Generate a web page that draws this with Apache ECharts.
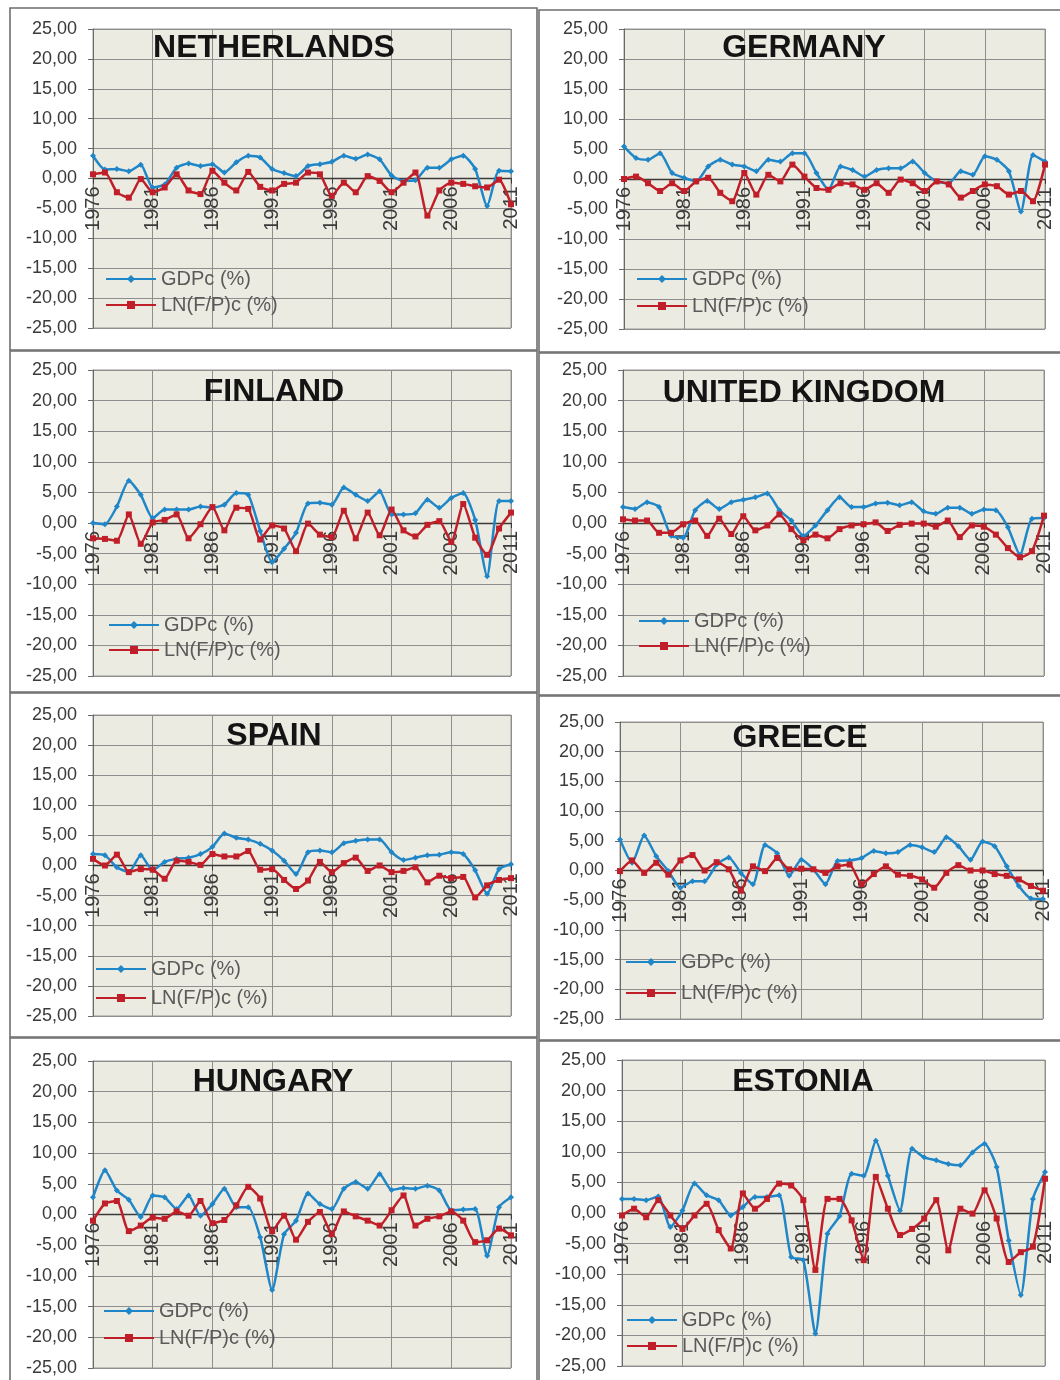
<!DOCTYPE html>
<html>
<head>
<meta charset="utf-8">
<script src="https://cdn.jsdelivr.net/npm/echarts@6/dist/echarts.min.js"></script>
<style>
  html, body { margin: 0; padding: 0; background: #ffffff; }
  #chart { width: 1060px; height: 1380px; }
</style>
</head>
<body>
<div id="chart"></div>
<script>
// Years on the category axis
const years = ['1976','1977','1978','1979','1980','1981','1982','1983','1984','1985',
               '1986','1987','1988','1989','1990','1991','1992','1993','1994','1995',
               '1996','1997','1998','1999','2000','2001','2002','2003','2004','2005',
               '2006','2007','2008','2009','2010','2011'];

// Country titles
const countries = ['NETHERLANDS', 'GERMANY', 'FINLAND', 'UNITED KINGDOM', 'SPAIN', 'GREECE', 'HUNGARY', 'ESTONIA'];

// Series names
const gdpName = 'GDPc (%)';
const lnName = 'LN(F/P)c (%)';

// Y axis range and step
const yMin = -25, yMax = 25, yStep = 5;

// GDP per capita growth (%) and LN(F/P) change (%) per country, 1976-2011
const netherlandsGdp = [3.8, 1.5, 1.6, 1.2, 2.3, -1.5, -1.0, 1.8, 2.5, 2.1,
                        2.4, 1.0, 2.7, 3.8, 3.5, 1.6, 0.9, 0.4, 2.1, 2.4,
                        2.8, 3.8, 3.3, 4.0, 3.2, 0.5, -0.4, -0.3, 1.8, 1.8,
                        3.2, 3.8, 1.6, -4.6, 1.3, 1.2];
const netherlandsLn = [0.7, 1.0, -2.3, -3.2, -0.1, -2.3, -1.5, 0.7, -2.0, -2.6,
                       1.3, -0.7, -2.0, 1.1, -1.4, -2.0, -0.9, -0.7, 1.0, 0.7,
                       -2.9, -0.7, -2.3, 0.4, -0.4, -2.3, -0.7, 1.0, -6.2, -2.0,
                       -0.7, -0.9, -1.3, -1.5, -0.2, -4.3];

const germanyGdp = [5.4, 3.5, 3.2, 4.3, 1.0, 0.2, -0.4, 2.1, 3.2, 2.4,
                    2.1, 1.3, 3.2, 2.9, 4.3, 4.3, 1.0, -1.8, 2.1, 1.5,
                    0.4, 1.5, 1.8, 1.8, 2.9, 1.0, -0.4, -0.7, 1.3, 0.7,
                    3.8, 3.2, 1.3, -5.4, 4.0, 2.9];
const germanyLn = [0.0, 0.4, -0.7, -2.0, -0.7, -2.0, -0.4, 0.2, -2.3, -3.7,
                   1.0, -2.6, 0.7, -0.4, 2.4, 0.4, -1.5, -1.8, -0.7, -0.9,
                   -1.8, -0.7, -2.3, -0.1, -0.7, -2.0, -0.4, -0.9, -3.1, -2.0,
                   -0.9, -1.2, -2.6, -2.0, -3.7, 2.4];

const finlandGdp = [0.0, -0.2, 2.7, 6.9, 4.6, 0.8, 2.2, 2.2, 2.2, 2.7,
                    2.5, 3.0, 4.9, 4.6, -1.3, -6.4, -4.2, -1.6, 3.2, 3.3,
                    3.0, 5.8, 4.6, 3.6, 5.2, 1.4, 1.4, 1.6, 3.8, 2.5,
                    4.1, 4.9, 0.5, -8.7, 3.6, 3.6];
const finlandLn = [-2.5, -2.6, -2.9, 1.4, -3.4, 0.1, 0.5, 1.4, -2.5, -0.2,
                   2.6, -1.2, 2.5, 2.3, -2.7, -0.4, -0.9, -4.6, -0.1, -1.9,
                   -2.3, 2.0, -2.5, 1.7, -2.0, 2.2, -1.2, -2.2, -0.3, 0.3,
                   -3.1, 3.1, -2.4, -5.2, -0.9, 1.7];

const ukGdp = [2.6, 2.3, 3.4, 2.6, -2.1, -2.4, 2.1, 3.6, 2.3, 3.4,
               3.8, 4.2, 4.8, 2.1, 0.4, -2.1, -0.4, 2.1, 4.2, 2.6,
               2.6, 3.2, 3.3, 2.9, 3.4, 1.9, 1.5, 2.5, 2.5, 1.5,
               2.2, 2.1, -0.7, -5.2, 0.7, 0.8];
const ukLn = [0.6, 0.4, 0.4, -1.6, -1.6, -0.2, 0.4, -2.1, 0.7, -1.8,
              1.1, -1.2, -0.4, 1.4, -1.0, -2.8, -1.9, -2.5, -1.0, -0.4,
              -0.2, 0.1, -1.3, -0.3, -0.1, -0.1, -0.6, 0.4, -2.3, -0.4,
              -0.6, -1.9, -4.1, -5.6, -4.6, 1.2];

const spainGdp = [1.9, 1.7, -0.3, -1.1, 1.7, -0.8, 0.6, 1.1, 1.3, 1.9,
                  3.1, 5.3, 4.6, 4.3, 3.6, 2.5, 0.8, -1.4, 2.2, 2.5,
                  2.2, 3.7, 4.1, 4.3, 4.3, 2.2, 0.9, 1.3, 1.7, 1.8,
                  2.2, 1.9, -0.8, -4.7, -0.6, 0.2];
const spainLn = [1.1, 0.0, 1.8, -1.1, -0.6, -0.7, -2.2, 0.8, 0.6, 0.1,
                 1.9, 1.5, 1.5, 2.4, -0.7, -0.6, -2.4, -3.9, -2.5, 0.6,
                 -1.1, 0.4, 1.3, -0.9, 0.0, -1.1, -0.9, -0.3, -2.8, -1.7,
                 -2.1, -1.9, -5.3, -3.3, -2.4, -2.1];

const greeceGdp = [5.2, 1.3, 5.9, 2.4, -0.1, -2.9, -1.8, -1.8, 1.0, 2.2,
                   -0.4, -2.3, 4.3, 2.9, -0.9, 1.8, 0.2, -2.3, 1.6, 1.7,
                   2.1, 3.3, 2.9, 3.1, 4.3, 3.9, 3.1, 5.6, 4.1, 1.8,
                   4.9, 4.1, 0.7, -2.6, -4.7, -4.8];
const greeceLn = [-0.1, 1.7, -0.4, 1.3, -0.7, 1.7, 2.6, 0.0, 1.4, 0.2,
                  -3.4, 0.7, -0.1, 2.1, 0.2, 0.3, 0.2, -0.4, 0.7, 1.0,
                  -2.3, -0.6, 0.7, -0.7, -0.9, -1.5, -2.9, -0.4, 0.9, 0.0,
                  0.0, -0.6, -0.9, -1.5, -2.6, -3.4];

const hungaryGdp = [2.8, 7.2, 3.9, 2.4, -0.4, 3.1, 2.8, 0.9, 3.1, -0.2,
                    1.7, 4.2, 1.2, 1.2, -3.7, -12.3, -3.2, -1.0, 3.4, 1.7,
                    0.9, 4.2, 5.3, 4.2, 6.6, 4.0, 4.3, 4.2, 4.7, 3.9,
                    0.7, 0.8, 0.9, -6.7, 1.2, 2.8];
const hungaryLn = [-1.0, 1.8, 2.2, -2.7, -1.8, -0.5, -0.7, 0.5, -0.2, 2.2,
                   -1.4, -0.9, 1.5, 4.5, 2.6, -2.7, -0.2, -4.1, -1.2, 0.4,
                   -3.2, 0.5, -0.3, -1.0, -1.8, 0.7, 3.1, -1.8, -0.7, -0.3,
                   0.5, -1.0, -4.5, -4.2, -2.3, -3.4];

const estoniaGdp = [2.3, 2.3, 2.1, 2.7, -2.3, 0.4, 4.8, 2.9, 2.1, -0.4,
                    1.0, 2.6, 2.6, 2.9, -7.2, -7.7, -19.7, -3.4, -0.5, 6.4,
                    6.1, 11.8, 6.1, 0.4, 10.5, 9.1, 8.6, 8.0, 7.8, 9.9,
                    11.3, 7.5, -4.5, -13.4, 2.3, 6.7];
const estoniaLn = [-0.4, 0.7, -0.7, 2.1, -0.4, -2.6, -0.4, 1.5, -2.8, -5.8,
                   3.2, 0.7, 2.3, 4.8, 4.5, 2.1, -9.3, 2.3, 2.3, -1.2,
                   -7.7, 5.9, 0.7, -3.6, -2.6, -0.9, 2.1, -6.1, 0.7, -0.1,
                   3.7, -0.9, -8.0, -6.4, -5.5, 5.6];

const gdpSeries = [netherlandsGdp, germanyGdp, finlandGdp, ukGdp, spainGdp, greeceGdp, hungaryGdp, estoniaGdp];
const lnSeries = [netherlandsLn, germanyLn, finlandLn, ukLn, spainLn, greeceLn, hungaryLn, estoniaLn];

// Panel geometry: plot box, title centre, legend anchor, frame
const layout = [
  { grid: [93, 29, 418, 299],  title: [274, 48],  legend: [105, 279, 6], cell: [10, 8, 527, 342] },
  { grid: [624, 29, 421, 300], title: [804, 48],  legend: [636, 279, 7], cell: [539, 10, 523, 342] },
  { grid: [93, 370, 418, 306], title: [274, 392], legend: [108, 625, 5], cell: [10, 351, 527, 341] },
  { grid: [623, 370, 421, 306], title: [804, 393], legend: [638, 621, 5], cell: [539, 353, 523, 342] },
  { grid: [93, 715, 418, 301], title: [274, 736], legend: [95, 969, 9],  cell: [10, 693, 527, 344] },
  { grid: [620, 722, 423, 297], title: [800, 738], legend: [625, 962, 11], cell: [539, 696, 523, 344] },
  { grid: [93, 1061, 418, 307], title: [273, 1082], legend: [103, 1311, 7], cell: [10, 1038, 527, 350] },
  { grid: [622, 1060, 423, 306], title: [803, 1082], legend: [626, 1320, 6], cell: [539, 1041, 523, 350] }
];

const BLUE = '#1f86c8';
const RED = '#c01e28';
const FONT = '"Liberation Sans", Arial, sans-serif';
const axisTextColor = '#3a3a3a';
const gridLineColor = '#8e8e8e';

const grids = [], xAxes = [], yAxes = [], series = [], legends = [], graphics = [];

layout.forEach((p, i) => {
  const [gl, gt, gw, gh] = p.grid;
  grids.push({
    left: gl, top: gt, width: gw, height: gh,
    show: true, backgroundColor: '#ecebe1',
    borderColor: '#9a9a9a', borderWidth: 1
  });
  // The category axis crosses the value axis at 0, the middle of the symmetric range
  xAxes.push({
    type: 'category', gridIndex: i, data: years, boundaryGap: false,
    position: 'bottom', offset: -gh / 2,
    axisLine: { onZero: false, lineStyle: { color: '#3a3a3a', width: 1.4 } },
    axisTick: { show: true, interval: 4, length: 5, lineStyle: { color: '#3a3a3a' } },
    axisLabel: { interval: 4, rotate: 90, fontSize: 20, color: axisTextColor, margin: 8, fontFamily: FONT },
    splitLine: { show: true, interval: 4, lineStyle: { color: gridLineColor, width: 1 } }
  });
  yAxes.push({
    type: 'value', gridIndex: i, min: yMin, max: yMax, interval: yStep,
    axisLine: { show: true, lineStyle: { color: '#6a6a6a', width: 1 } },
    axisTick: { show: true, length: 5, lineStyle: { color: '#6a6a6a' } },
    axisLabel: {
      fontSize: 18, color: axisTextColor, margin: 16, fontFamily: FONT,
      formatter: v => v.toFixed(2).replace('.', ',')
    },
    splitLine: { show: true, lineStyle: { color: gridLineColor, width: 1 } }
  });
  series.push({
    type: 'line', name: gdpName, xAxisIndex: i, yAxisIndex: i, data: gdpSeries[i],
    smooth: 0.2, symbol: 'diamond', symbolSize: 6,
    lineStyle: { color: BLUE, width: 2.5 }, itemStyle: { color: BLUE },
    emphasis: { disabled: true }, z: 3
  });
  series.push({
    type: 'line', name: lnName, xAxisIndex: i, yAxisIndex: i, data: lnSeries[i],
    smooth: 0.2, symbol: 'rect', symbolSize: 6,
    lineStyle: { color: RED, width: 2.5 }, itemStyle: { color: RED },
    emphasis: { disabled: true }, z: 4
  });
  const [lx, ly, lgap] = p.legend;
  legends.push({
    orient: 'vertical', left: lx, top: ly - 10, padding: 0,
    data: [gdpName, lnName],
    itemWidth: 50, itemHeight: 10, itemGap: lgap,
    selectedMode: false,
    textStyle: { fontSize: 20, color: '#5a5a5a', fontFamily: FONT, lineHeight: 20 }
  });
  const [cx, cy, cw, ch] = p.cell;
  graphics.push({
    type: 'rect', silent: true, z: -10,
    shape: { x: cx, y: cy, width: cw, height: ch },
    style: { fill: 'none', stroke: '#6e6e6e', lineWidth: 1.6 }
  });
  graphics.push({
    type: 'text', silent: true, z: 100,
    style: {
      x: p.title[0], y: p.title[1], text: countries[i],
      align: 'center', verticalAlign: 'middle',
      font: 'bold 32px ' + FONT, fill: '#141414'
    }
  });
});

const chart = echarts.init(document.getElementById('chart'), null, { renderer: 'canvas' });
chart.setOption({
  animation: false,
  backgroundColor: '#ffffff',
  grid: grids,
  xAxis: xAxes,
  yAxis: yAxes,
  legend: legends,
  series: series,
  graphic: graphics
});
</script>
</body>
</html>
